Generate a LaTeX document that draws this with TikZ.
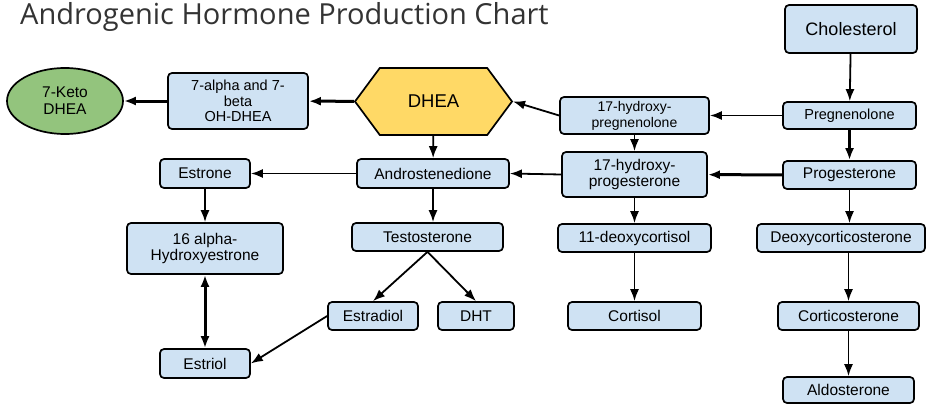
\documentclass[tikz,border=0pt]{standalone}
\usepackage{fontspec}
\setmainfont{Liberation Sans}
\newfontfamily\titlefont{Open Sans}
\usetikzlibrary{arrows.meta,shapes.geometric,shapes.symbols}
\definecolor{boxblue}{HTML}{CFE2F3}
\definecolor{dheagold}{HTML}{FFD966}
\definecolor{ketogreen}{HTML}{93C47D}
\definecolor{titlegray}{HTML}{333333}
\tikzset{hormone/.style = {shape=rectangle,rounded corners=4pt,draw,line width=1.7pt,fill=boxblue,
  inner sep=0pt,minimum height=28pt,align=center,font=\fontsize{15.5}{16.5}\selectfont}}
\tikzset{edge/.style = {->,> = {Latex[length=12pt,width=9pt]},line width=1.8pt}}
\tikzset{heavy/.style = {edge,line width=3pt}}

\begin{document}
\begin{tikzpicture}[x=1pt,y=-1pt]
\path[use as bounding box,fill=white] (0,0) rectangle (933,404);

\node[anchor=base west,inner sep=0pt,text=titlegray,font=\titlefont\fontsize{29}{31}\selectfont] (title) at (20,25) {Androgenic Hormone Production Chart};

\node[hormone,minimum width=132pt,minimum height=48pt,font=\fontsize{18}{20}\selectfont] (chol) at (851,29) {Cholesterol};
\node[hormone,minimum width=133pt,minimum height=27pt,font=\fontsize{14.5}{16}\selectfont] (preg) at (849.5,115.5) {Pregnenolone};
\node[hormone,minimum width=133pt] (prog) at (849.5,175) {Progesterone};
\node[hormone,minimum width=149pt,minimum height=37pt,font=\fontsize{14}{16}\selectfont] (hpreg) at (634.5,115.5) {17-hydroxy-\\pregnenolone};
\node[hormone,minimum width=145pt,minimum height=45pt] (hprog) at (634.5,174.5) {17-hydroxy-\\progesterone};
\node[hormone,minimum width=153pt] (deoxcort) at (634.5,238) {11-deoxycortisol};
\node[hormone,minimum width=133pt] (cortisol) at (634.5,316) {Cortisol};
\node[hormone,minimum width=168pt] (doc) at (841,238) {Deoxycorticosterone};
\node[hormone,minimum width=141pt] (corticost) at (848.5,316) {Corticosterone};
\node[hormone,minimum width=131pt,minimum height=26pt] (aldo) at (848.5,390) {Aldosterone};

\node[signal,signal to=east and west,signal pointer angle=107,draw,line width=1.7pt,fill=dheagold,
  minimum width=157pt,minimum height=67pt,inner sep=0pt,font=\fontsize{18.5}{20}\selectfont] (dhea) at (433.5,101.5) {DHEA};
\node[hormone,minimum width=140pt,minimum height=56pt,font=\fontsize{14.5}{15.5}\selectfont] (sevenoh) at (238,101) {7-alpha and 7-\\beta\\OH-DHEA};
\node[ellipse,draw,line width=1.7pt,fill=ketogreen,minimum width=116pt,minimum height=66pt,inner sep=0pt,
  align=center,font=\fontsize{15.5}{17}\selectfont] (keto) at (65,101) {7-Keto\\DHEA};

\node[hormone,minimum width=152pt,minimum height=29pt] (andro) at (433,173.5) {Androstenedione};
\node[hormone,minimum width=90pt,minimum height=29pt] (estrone) at (205,173.5) {Estrone};
\node[hormone,minimum width=156pt,minimum height=51pt] (hydroxy) at (205,248.5) {16 alpha-\\Hydroxyestrone};
\node[hormone,minimum width=151pt] (testo) at (427.5,237) {Testosterone};
\node[hormone,minimum width=90pt] (estradiol) at (373,316) {Estradiol};
\node[hormone,minimum width=76pt] (dht) at (476,316) {DHT};
\node[hormone,minimum width=90pt,minimum height=29pt] (estriol) at (205,363.5) {Estriol};

\draw[edge] (chol) -- (preg);
\draw[heavy] (preg) -- (prog);
\draw[edge] (preg) -- (hpreg);
\draw[heavy] (prog) -- (hprog);
\draw[edge] (hpreg) -- (hprog);
\draw[edge] (hpreg.west) -- (dhea.east);
\draw[edge] (hprog.west) -- (andro.east);
\draw[edge] (prog) -- (prog |- doc.north);
\draw[edge] (corticost |- doc.south) -- (corticost);
\draw[edge] (corticost) -- (aldo);
\draw[edge] (hprog) -- (deoxcort);
\draw[edge] (deoxcort) -- (cortisol);

\draw[heavy] (dhea) -- (sevenoh);
\draw[heavy] (sevenoh) -- (keto);
\draw[edge] (dhea) -- (andro);
\draw[edge] (andro) -- (estrone);
\draw[edge] (estrone) -- (hydroxy);
\draw[heavy,<->] (hydroxy) -- (estriol);
\draw[edge] (andro) -- (andro |- testo.north);
\draw[edge] (testo.south) -- (estradiol.north);
\draw[edge] (testo.south) -- (dht.north);
\draw[edge] (estradiol.west) -- (estriol.east);

\end{tikzpicture}
\end{document}
